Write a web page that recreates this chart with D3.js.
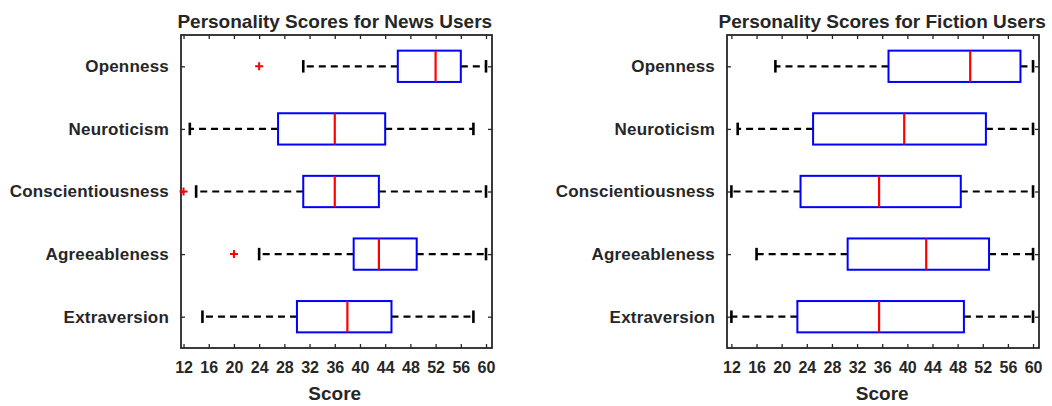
<!DOCTYPE html>
<html>
<head>
<meta charset="utf-8">
<script src="https://cdn.jsdelivr.net/npm/d3@7"></script>
<style>
  html, body { margin: 0; padding: 0; background: #fff; }
  svg { display: block; }
  text { font-family: "Liberation Sans", Arial, sans-serif; font-weight: bold; fill: #262626; }
</style>
</head>
<body>
<svg id="chart" width="1052" height="406"></svg>
<script>
// Trait names, top to bottom
const categories = ["Openness", "Neuroticism", "Conscientiousness", "Agreeableness", "Extraversion"];

// News users: whisker ends, quartiles, medians, outliers
const newsLower   = [31, 13, 14, 24, 15];
const newsQ1      = [46, 27, 31, 39, 30];
const newsMedian  = [52, 36, 36, 43, 38];
const newsQ3      = [56, 44, 43, 49, 45];
const newsUpper   = [60, 58, 60, 60, 58];
const newsOutliers = [[24], [], [12], [20], []];

// Fiction users
const fictionLower   = [19, 13, 12, 16, 12];
const fictionQ1      = [37, 25, 23, 30.5, 22.5];
const fictionMedian  = [50, 39.5, 35.5, 43, 35.5];
const fictionQ3      = [58, 52.5, 48.5, 53, 49];
const fictionUpper   = [60, 60, 60, 60, 60];
const fictionOutliers = [[], [], [], [], []];

const xTicks = [12, 16, 20, 24, 28, 32, 36, 40, 44, 48, 52, 56, 60];

const svg = d3.select("#chart");

function drawPanel(cfg) {
  const { left, right, top, bottom, domain, title, lower, q1, med, q3, upper, outliers } = cfg;
  const g = svg.append("g");
  const x = d3.scaleLinear().domain(domain).range([left, right]);
  const y = d3.scaleLinear().domain([0.5, categories.length + 0.5]).range([top, bottom]);
  const boxH = y(1.25) - y(0.75);
  const capH = y(1.1) - y(0.9);

  // frame
  g.append("rect")
    .attr("x", left).attr("y", top)
    .attr("width", right - left).attr("height", bottom - top)
    .attr("fill", "none").attr("stroke", "#262626").attr("stroke-width", 1.8);

  // x ticks (inside, top and bottom) and labels
  const axB = d3.axisBottom(x).tickValues(xTicks).tickSize(-4).tickPadding(14).tickFormat(d3.format("d"));
  const gb = g.append("g").attr("transform", `translate(0,${bottom})`).call(axB);
  gb.select(".domain").remove();
  gb.selectAll(".tick line").attr("stroke", "#262626").attr("stroke-width", 1.3);
  gb.selectAll(".tick text").attr("font-size", 16).attr("font-family", null).attr("fill", "#262626");

  const axT = d3.axisTop(x).tickValues(xTicks).tickSize(-4).tickFormat("");
  const gt = g.append("g").attr("transform", `translate(0,${top})`).call(axT);
  gt.select(".domain").remove();
  gt.selectAll(".tick line").attr("stroke", "#262626").attr("stroke-width", 1.3);

  // y ticks (inside, left and right) and category labels
  const yIdx = categories.map((c, i) => i + 1);
  const axL = d3.axisLeft(y).tickValues(yIdx).tickSize(-4).tickPadding(12).tickFormat((d) => categories[d - 1]);
  const gl = g.append("g").attr("transform", `translate(${left},0)`).call(axL);
  gl.select(".domain").remove();
  gl.selectAll(".tick line").attr("stroke", "#262626").attr("stroke-width", 1.3);
  gl.selectAll(".tick text").attr("font-size", 17).attr("font-family", null).attr("fill", "#262626")
    .attr("letter-spacing", 0.2);

  const axR = d3.axisRight(y).tickValues(yIdx).tickSize(-4).tickFormat("");
  const gr = g.append("g").attr("transform", `translate(${right},0)`).call(axR);
  gr.select(".domain").remove();
  gr.selectAll(".tick line").attr("stroke", "#262626").attr("stroke-width", 1.3);

  // title and x label
  g.append("text").attr("x", (x(12) + x(60)) / 2).attr("y", 28)
    .attr("text-anchor", "middle").attr("font-size", 19).text(title);
  g.append("text").attr("x", (x(12) + x(60)) / 2).attr("y", 400)
    .attr("text-anchor", "middle").attr("font-size", 19).text("Score");

  categories.forEach((c, i) => {
    const cy = y(i + 1);
    // whiskers
    g.append("line").attr("x1", x(q1[i])).attr("x2", x(lower[i])).attr("y1", cy).attr("y2", cy)
      .attr("stroke", "#000").attr("stroke-width", 2.2).attr("stroke-dasharray", "7,5");
    g.append("line").attr("x1", x(q3[i])).attr("x2", x(upper[i])).attr("y1", cy).attr("y2", cy)
      .attr("stroke", "#000").attr("stroke-width", 2.2).attr("stroke-dasharray", "7,5");
    // caps
    [lower[i], upper[i]].forEach((v) => {
      g.append("line").attr("x1", x(v)).attr("x2", x(v))
        .attr("y1", cy - capH / 2).attr("y2", cy + capH / 2)
        .attr("stroke", "#000").attr("stroke-width", 2.6);
    });
    // box
    g.append("rect").attr("x", x(q1[i])).attr("y", cy - boxH / 2)
      .attr("width", x(q3[i]) - x(q1[i])).attr("height", boxH)
      .attr("fill", "none").attr("stroke", "#0000ff").attr("stroke-width", 2);
    // median
    g.append("line").attr("x1", x(med[i])).attr("x2", x(med[i]))
      .attr("y1", cy - boxH / 2).attr("y2", cy + boxH / 2)
      .attr("stroke", "#ff0000").attr("stroke-width", 2.2);
    // outliers
    outliers[i].forEach((v) => {
      const px = x(v), s = 4;
      g.append("path").attr("d", `M${px - s},${cy}H${px + s}M${px},${cy - s}V${cy + s}`)
        .attr("stroke", "#ff0000").attr("stroke-width", 2);
    });
  });
}

drawPanel({
  left: 181, right: 492, top: 35, bottom: 348, domain: [11.6, 60.95],
  title: "Personality Scores for News Users",
  lower: newsLower, q1: newsQ1, med: newsMedian, q3: newsQ3, upper: newsUpper, outliers: newsOutliers
});
drawPanel({
  left: 727, right: 1039, top: 35, bottom: 348, domain: [11.3, 60.95],
  title: "Personality Scores for Fiction Users",
  lower: fictionLower, q1: fictionQ1, med: fictionMedian, q3: fictionQ3, upper: fictionUpper, outliers: fictionOutliers
});
</script>
</body>
</html>
